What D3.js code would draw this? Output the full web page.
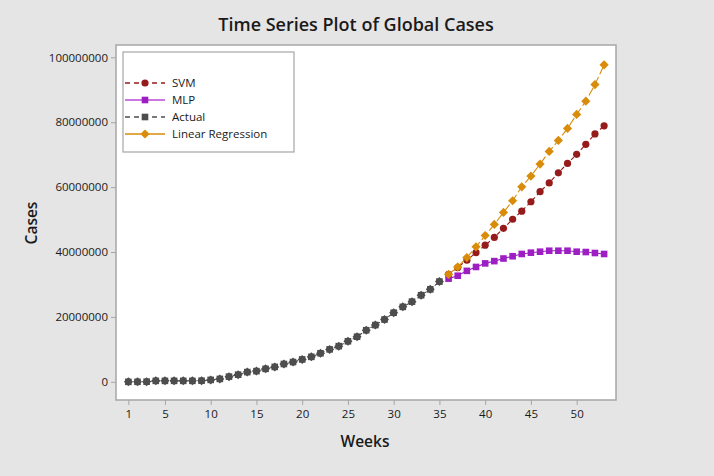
<!DOCTYPE html>
<html>
<head>
<meta charset="utf-8">
<script src="https://cdn.jsdelivr.net/npm/d3@7.9.0/dist/d3.min.js"></script>
<style>
  html, body { margin: 0; padding: 0; background: #e5e5e5; }
  svg { display: block; font-family: "Open Sans", "Noto Sans", sans-serif; }
</style>
</head>
<body>
<svg id="chart"></svg>
<script>
// Data (cases in millions)
const actualWeeks = d3.range(1, 36);
const actual = [0.0, 0.0, 0.05, 0.3, 0.3, 0.3, 0.3, 0.3, 0.35, 0.6, 0.9, 1.6, 2.2, 3.0, 3.3,
  4.0, 4.6, 5.5, 6.1, 6.9, 7.7, 8.8, 10.0, 11.0, 12.5, 13.9, 15.9, 17.5, 19.2, 21.3,
  23.1, 24.7, 26.7, 28.5, 30.9];

const predWeeks = d3.range(36, 54);
const svm = [33.1, 35.2, 37.5, 39.8, 42.1, 44.5, 47.3, 50.1, 52.6, 55.5, 58.6, 61.3,
  64.4, 67.3, 70.1, 73.2, 76.4, 78.9];
const mlp = [31.8, 32.7, 34.2, 35.4, 36.5, 37.2, 38.0, 38.7, 39.4, 39.8, 40.1, 40.4,
  40.4, 40.4, 40.1, 40.0, 39.7, 39.4];
const linReg = [33.1, 35.4, 38.3, 41.6, 45.1, 48.5, 52.2, 55.8, 60.1, 63.4, 67.1, 71.0,
  74.4, 78.1, 82.4, 86.5, 91.6, 97.7];

const xTicks = [1, 5, 10, 15, 20, 25, 30, 35, 40, 45, 50];
const yTicks = [0, 20, 40, 60, 80, 100];

const width = 714;
const height = 476;
const plot = { left: 116, right: 616, top: 45, bottom: 400 };
const ink = '#1a1a1a';

const x = d3.scaleLinear().domain([-0.35, 54.3]).range([plot.left, plot.right]);
const y = d3.scaleLinear().domain([-5.6, 103.8]).range([plot.bottom, plot.top]);

const svg = d3.select('#chart')
  .attr('width', width)
  .attr('height', height)
  .attr('viewBox', [0, 0, width, height]);

svg.append('rect').attr('width', width).attr('height', height).attr('fill', '#e5e5e5');

// plot area
svg.append('rect')
  .attr('x', plot.left).attr('y', plot.top)
  .attr('width', plot.right - plot.left).attr('height', plot.bottom - plot.top)
  .attr('fill', '#fff').attr('stroke', '#a6a6a6').attr('stroke-width', 1.5);

// title
svg.append('text')
  .attr('x', 356).attr('y', 31)
  .attr('text-anchor', 'middle')
  .attr('font-size', 18).attr('font-weight', 600).attr('fill', ink)
  .text('Time Series Plot of Global Cases');

// axes
const xAxis = svg.append('g')
  .attr('transform', `translate(0,${plot.bottom})`)
  .call(d3.axisBottom(x).tickValues(xTicks).tickSize(5).tickPadding(5));
const yAxis = svg.append('g')
  .attr('transform', `translate(${plot.left},0)`)
  .call(d3.axisLeft(y).tickValues(yTicks).tickSize(5).tickPadding(3)
    .tickFormat(d => d3.format('d')(d * 1e6)));
[xAxis, yAxis].forEach(g => {
  g.select('.domain').remove();
  g.selectAll('line').attr('stroke', '#a6a6a6');
  g.selectAll('text').attr('font-size', 11.5).attr('font-weight', 500).attr('fill', ink)
    .attr('font-family', '"Open Sans", "Noto Sans", sans-serif');
});

svg.append('text')
  .attr('x', 365).attr('y', 447)
  .attr('text-anchor', 'middle')
  .attr('font-size', 15.5).attr('font-weight', 600).attr('fill', ink)
  .text('Weeks');
svg.append('text')
  .attr('transform', 'translate(37,223) rotate(-90)')
  .attr('text-anchor', 'middle')
  .attr('font-size', 15.5).attr('font-weight', 600).attr('fill', ink)
  .text('Cases');

// series styles
const series = [
  { name: 'SVM', weeks: predWeeks, values: svm, color: '#961b1b', dash: '4,3', symbol: 'circle' },
  { name: 'MLP', weeks: predWeeks, values: mlp, color: '#9d1fc4', dash: null, symbol: 'square' },
  { name: 'Linear Regression', weeks: predWeeks, values: linReg, color: '#d98c0a', dash: '9,3', symbol: 'diamond' },
  { name: 'Actual', weeks: actualWeeks, values: actual, color: '#4d4d4d', dash: '4,3', symbol: 'octagon' }
];

function drawMarker(g, sym, color, cx, cy) {
  if (sym === 'circle') {
    g.append('circle').attr('cx', cx).attr('cy', cy).attr('r', 3.6).attr('fill', color);
  } else if (sym === 'square') {
    g.append('rect').attr('x', cx - 3.3).attr('y', cy - 3.3).attr('width', 6.6).attr('height', 6.6).attr('fill', color);
  } else if (sym === 'diamond') {
    g.append('path').attr('transform', `translate(${cx},${cy})`)
      .attr('d', 'M0,-4.6L4.6,0L0,4.6L-4.6,0Z').attr('fill', color);
  } else {
    // overlapping square + diamond markers
    g.append('rect').attr('x', cx - 3.3).attr('y', cy - 3.3).attr('width', 6.6).attr('height', 6.6).attr('fill', color);
    g.append('path').attr('transform', `translate(${cx},${cy})`)
      .attr('d', 'M0,-4.5L4.5,0L0,4.5L-4.5,0Z').attr('fill', color);
  }
}

const line = d3.line().x(d => x(d[0])).y(d => y(d[1]));

series.forEach(s => {
  const pts = s.weeks.map((w, i) => [w, s.values[i]]);
  const g = svg.append('g');
  g.append('path')
    .attr('d', line(pts))
    .attr('fill', 'none')
    .attr('stroke', s.color)
    .attr('stroke-width', 1.1)
    .attr('stroke-dasharray', s.dash);
  pts.forEach(p => drawMarker(g, s.symbol, s.color, x(p[0]), y(p[1])));
});

// legend
const legend = svg.append('g');
legend.append('rect')
  .attr('x', 123).attr('y', 52).attr('width', 171).attr('height', 100)
  .attr('fill', '#fff').attr('stroke', '#a6a6a6').attr('stroke-width', 1.2);

const legendItems = [
  { name: 'SVM', color: '#961b1b', dash: '5,4', symbol: 'circle' },
  { name: 'MLP', color: '#b84ad6', dash: null, symbol: 'square', markColor: '#9d1fc4' },
  { name: 'Actual', color: '#4d4d4d', dash: '5,4', symbol: 'square' },
  { name: 'Linear Regression', color: '#d98c0a', dash: '16,8', symbol: 'diamond' }
];
legendItems.forEach((d, i) => {
  const ly = 83 + i * 17;
  legend.append('line')
    .attr('x1', 125).attr('x2', 165).attr('y1', ly).attr('y2', ly)
    .attr('stroke', d.color).attr('stroke-width', 1.3)
    .attr('stroke-dasharray', d.dash);
  drawMarker(legend, d.symbol, d.markColor || d.color, 145, ly);
  legend.append('text')
    .attr('x', 172).attr('y', ly + 4)
    .attr('font-size', 11.5).attr('font-weight', 500).attr('fill', ink)
    .text(d.name);
});
</script>
</body>
</html>
